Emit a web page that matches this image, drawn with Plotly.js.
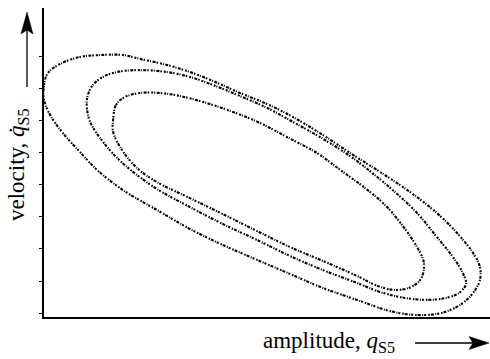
<!DOCTYPE html>
<html>
<head>
<meta charset="utf-8">
<script src="https://cdn.plot.ly/plotly-3.0.1.min.js"></script>
<style>
  html, body { margin: 0; padding: 0; background: #fff; }
  #chart { width: 490px; height: 359px; }
</style>
</head>
<body>
<div id="chart"></div>
<script>
// Phase-plane orbits of the S5 mode: amplitude q_S5 against velocity dq_S5/dt
// (arbitrary units, one tick = one unit on the velocity axis).

// Inner orbit
const innerAmp = [2.16, 2.25, 2.53, 3.0, 3.625, 4.25, 5.09, 5.91, 6.75, 7.59, 8.53, 9.34, 10.03, 10.66,
  11.19, 11.66, 11.875, 11.78, 11.47, 10.97, 10.44, 9.78, 8.72, 7.69, 6.66, 5.59, 4.56, 3.53, 2.91, 2.44, 2.16, 2.16];
const innerVel = [6.03, 6.5, 6.75, 6.875, 6.875, 6.78, 6.56, 6.28, 5.94, 5.5, 5.0, 4.41, 3.91, 3.375,
  2.75, 2.06, 1.56, 1.06, 0.81, 0.72, 0.84, 1.16, 1.625, 2.06, 2.56, 3.09, 3.59, 4.09, 4.53, 5.09, 5.66, 6.03];

// Middle orbit
const middleAmp = [1.375, 1.34, 1.5, 1.84, 2.28, 3.0, 3.84, 4.56, 5.28, 6.125, 6.97, 7.78, 8.72, 9.66, 10.34,
  10.97, 11.66, 12.28, 12.78, 13.09, 13.19, 12.97, 12.56, 12.0, 11.28, 10.5, 9.78, 8.72, 7.69, 6.66, 5.59,
  4.56, 3.53, 2.78, 2.22, 1.75, 1.47, 1.375];
const middleVel = [6.19, 6.66, 7.09, 7.375, 7.53, 7.59, 7.53, 7.375, 7.125, 6.78, 6.41, 5.97, 5.44, 4.84, 4.31,
  3.78, 3.125, 2.375, 1.75, 1.25, 0.91, 0.625, 0.47, 0.41, 0.47, 0.66, 0.94, 1.34, 1.78, 2.28, 2.78,
  3.31, 3.875, 4.41, 4.91, 5.47, 5.91, 6.19];

// Outer orbit
const outerAmp = [0.0, 0.0, 0.125, 0.5, 1.125, 1.75, 2.47, 3.0, 3.84, 4.56, 5.28, 6.125, 6.97, 7.78, 8.72,
  9.66, 10.5, 11.44, 12.28, 12.91, 13.41, 13.625, 13.625, 13.41, 13.09, 12.69, 12.28, 11.59, 10.81, 9.78,
  8.72, 7.69, 6.66, 5.59, 4.56, 3.53, 2.47, 1.66, 1.125, 0.59, 0.19, 0.0];
const outerVel = [6.66, 7.125, 7.5, 7.78, 8.0, 8.06, 8.06, 7.94, 7.75, 7.53, 7.25, 6.875, 6.53, 6.125, 5.56,
  4.94, 4.41, 3.78, 3.125, 2.5, 1.875, 1.44, 1.03, 0.625, 0.31, 0.09, -0.03, -0.06, 0.06, 0.41,
  0.78, 1.22, 1.66, 2.125, 2.625, 3.22, 3.84, 4.47, 5.03, 5.625, 6.19, 6.66];

// Velocity-axis tick positions (unlabelled)
const velTicks = [0, 1, 2, 3, 4, 5, 6, 7, 8];

const orbitNames = ['inner orbit', 'middle orbit', 'outer orbit'];
const orbitAmp = [innerAmp, middleAmp, outerAmp];
const orbitVel = [innerVel, middleVel, outerVel];

const W = 490, H = 359;
const M = { l: 44, r: 0, t: 8, b: 42 };
const plotW = W - M.l - M.r, plotH = H - M.t - M.b;
// convert a page pixel position into paper coordinates (for decorations)
const px = x => (x - M.l) / plotW;
const py = y => (H - M.b - y) / plotH;

const traces = orbitNames.map((name, i) => ({
  type: 'scatter',
  mode: 'lines',
  name: name,
  x: orbitAmp[i],
  y: orbitVel[i],
  line: { color: '#000', width: 2.1, shape: 'spline', smoothing: 1, dash: '2px,1px,1px,1.5px,3px,1px,1.5px,2px' },
  hoverinfo: 'skip'
}));

const serif = 'Liberation Serif, Times New Roman, serif';

function arrowHead(tip, back, notch, half, vertical) {
  // filled arrowhead with a notched base
  let d;
  if (vertical) {
    d = `M ${px(tip[0])} ${py(tip[1])} L ${px(tip[0] - half)} ${py(back)} L ${px(tip[0])} ${py(notch)} L ${px(tip[0] + half)} ${py(back)} Z`;
  } else {
    d = `M ${px(tip[0])} ${py(tip[1])} L ${px(back)} ${py(tip[1] - half)} L ${px(notch)} ${py(tip[1])} L ${px(back)} ${py(tip[1] + half)} Z`;
  }
  return { type: 'path', xref: 'paper', yref: 'paper', path: d, fillcolor: '#000', line: { color: '#000', width: 0.5 } };
}

const layout = {
  width: W, height: H,
  margin: M,
  paper_bgcolor: '#fff', plot_bgcolor: '#fff',
  showlegend: false,
  xaxis: {
    range: [0, 13.94], showgrid: false, zeroline: false,
    showline: true, linecolor: '#000', linewidth: 2,
    ticks: '', showticklabels: false, fixedrange: true
  },
  yaxis: {
    range: [-0.125, 9.53], showgrid: false, zeroline: false,
    showline: true, linecolor: '#000', linewidth: 2,
    tickmode: 'array', tickvals: velTicks, ticks: 'outside', ticklen: 3, tickwidth: 1, tickcolor: '#000',
    showticklabels: false, fixedrange: true
  },
  shapes: [
    // arrow beside the velocity label
    { type: 'line', xref: 'paper', yref: 'paper', x0: px(27), x1: px(27), y0: py(87), y1: py(28), line: { color: '#000', width: 1.3 } },
    arrowHead([27, 12], 34, 30, 6, true),
    // arrow after the amplitude label
    { type: 'line', xref: 'paper', yref: 'paper', x0: px(415), x1: px(474), y0: py(343), y1: py(343), line: { color: '#000', width: 1.3 } },
    arrowHead([489, 343], 469, 473, 6.5, false)
  ],
  annotations: [
    {
      xref: 'paper', yref: 'paper', x: px(18), y: py(165), xanchor: 'center', yanchor: 'middle',
      textangle: -90, showarrow: false,
      text: 'velocity, <i>q\u0307</i><sub>S5</sub>',
      font: { family: serif, size: 23, color: '#000' }
    },
    {
      xref: 'paper', yref: 'paper', x: px(261), y: py(342), xanchor: 'left', yanchor: 'middle',
      showarrow: false,
      text: 'amplitude, <i>q</i><sub>S5</sub>',
      font: { family: serif, size: 23, color: '#000' }
    }
  ]
};

Plotly.newPlot('chart', traces, layout, { displayModeBar: false, staticPlot: true });
</script>
</body>
</html>
